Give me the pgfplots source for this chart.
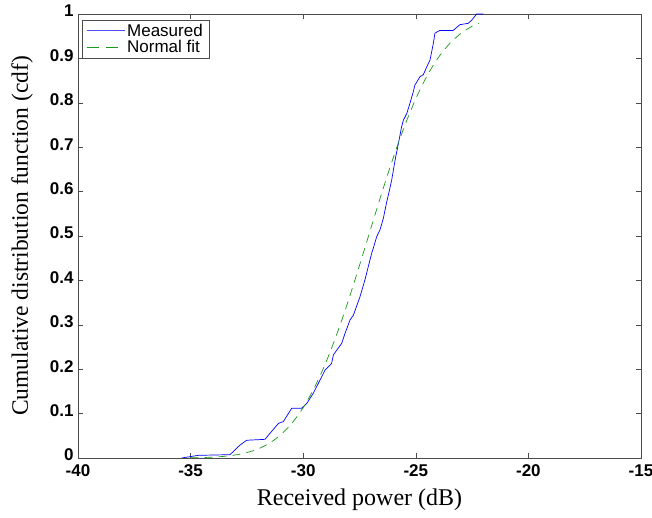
\documentclass[border=0pt]{standalone}
\usepackage{pgfplots}
\pgfplotsset{compat=1.18}
\usepackage{fontspec}
\setmainfont{Liberation Serif}
\newfontfamily\arialfont{Liberation Sans}
\definecolor{mgreen}{rgb}{0.1,0.6,0.1}
\definecolor{lblue}{rgb}{0.3,0.3,1}
\definecolor{axgray}{rgb}{0.3,0.3,0.3}
\begin{document}
\begin{tikzpicture}
\useasboundingbox (-78pt,-60pt) rectangle (574pt,458pt);
\begin{axis}[
  at={(0,0)}, anchor=south west,
  scale only axis, width=563pt, height=444pt,
  xmin=-40, xmax=-15, ymin=0, ymax=1,
  xtick={-40,-35,-30,-25,-20,-15},
  xticklabels={-40,-35,-30,-25,-20,-15},
  ytick={0,0.1,0.2,0.3,0.4,0.5,0.6,0.7,0.8,0.9,1},
  yticklabels={0,0.1,0.2,0.3,0.4,0.5,0.6,0.7,0.8,0.9,1},
  tick align=inside, xtick pos=both, ytick pos=both,
  major tick length=5pt,
  axis line style={axgray},
  every tick/.style={axgray},
  /pgf/number format/assume math mode=true,
  ticklabel style={font=\arialfont\bfseries\fontsize{17}{17}\selectfont},
  xticklabel style={yshift=-3pt},
  yticklabel style={yshift=3pt, xshift=-1pt},
  xlabel={Received power (dB)},
  ylabel={Cumulative distribution function (cdf)},
  every axis x label/.style={at={(axis description cs:0.5,-0.0946)}, anchor=center,
    font=\fontsize{24}{24}\selectfont},
  every axis y label/.style={at={(axis description cs:-0.0995,0.5)}, anchor=center, rotate=90,
    font=\fontsize{23.5}{23.5}\selectfont},
  legend style={at={(axis description cs:0.007,0.986)}, anchor=north west,
    font=\arialfont\fontsize{17}{17}\selectfont, draw=axgray,
    inner xsep=4pt, inner ysep=2pt, row sep=-2pt},
  legend cell align=left,
  clip=true,
]
\addplot[blue, line width=0.7pt,
  legend image code/.code={\pgfsetstrokecolor{lblue}\pgfsetlinewidth{1pt}\pgfpathmoveto{\pgfpoint{0pt}{0.5pt}}\pgfpathlineto{\pgfpoint{38pt}{0.5pt}}\pgfusepath{stroke}}]
coordinates {
(-35.4,0) (-35.03,0.003) (-34.66,0.006) (-33.25,0.0075) (-32.81,0.029) (-32.51,0.040)
(-31.70,0.042) (-31.10,0.078) (-30.88,0.082) (-30.66,0.10) (-30.51,0.112) (-30.07,0.112)
(-29.84,0.123) (-29.55,0.146) (-29.25,0.176) (-29.03,0.198) (-28.74,0.213) (-28.66,0.232)
(-28.51,0.243) (-28.29,0.258) (-28.14,0.281) (-27.92,0.311) (-27.77,0.322) (-27.48,0.363)
(-27.26,0.401) (-27.11,0.431) (-26.96,0.461) (-26.89,0.472) (-26.74,0.498) (-26.59,0.514)
(-26.44,0.540) (-26.30,0.575) (-26.22,0.592) (-26.07,0.626) (-25.92,0.671) (-25.77,0.709)
(-25.63,0.746) (-25.55,0.761) (-25.40,0.776) (-25.26,0.799) (-25.11,0.825) (-25.04,0.840)
(-24.81,0.859) (-24.67,0.863) (-24.44,0.889) (-24.37,0.896) (-24.22,0.934) (-24.15,0.957)
(-23.93,0.963) (-23.34,0.963) (-23.04,0.976) (-22.67,0.979) (-22.52,0.986) (-22.30,1.0)
(-22.0,1.0)
};
\addlegendentry{Measured}
\addplot[mgreen, line width=0.7pt, dash pattern=on 8pt off 6pt, smooth,
  legend image code/.code={\pgfsetstrokecolor{mgreen}\pgfsetlinewidth{0.8pt}\pgfsetdash{{12pt}{7pt}}{0pt}\pgfpathmoveto{\pgfpointorigin}\pgfpathlineto{\pgfpoint{38pt}{0pt}}\pgfusepath{stroke}}]
coordinates {
(-35,0.0005) (-34.5,0.0010) (-34,0.0020) (-33.5,0.0038) (-33,0.0070) (-32.5,0.0122)
(-32,0.0206) (-31.5,0.0334) (-31,0.0521) (-30.5,0.0783) (-30,0.1135) (-29.5,0.1587)
(-29,0.2142) (-28.5,0.2799) (-28,0.3538) (-27.5,0.4338) (-27,0.5166) (-26.5,0.5987)
(-26,0.6766) (-25.5,0.7475) (-25,0.8092) (-24.5,0.8607) (-24,0.9018) (-23.5,0.9332)
(-23,0.9562) (-22.5,0.9724) (-22.2,0.9794)
};
\addlegendentry{Normal fit}
\end{axis}
\end{tikzpicture}
\end{document}
